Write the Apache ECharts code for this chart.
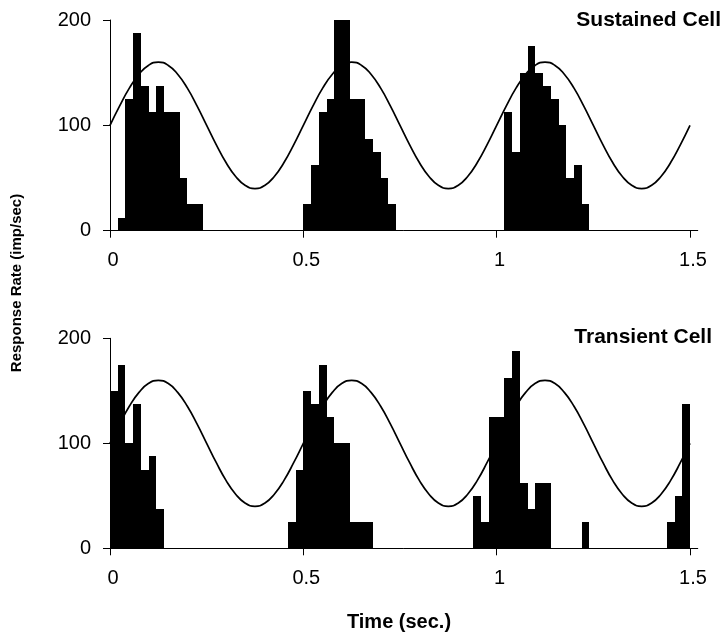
<!DOCTYPE html>
<html>
<head>
<meta charset="utf-8">
<script src="https://cdn.jsdelivr.net/npm/echarts@6/dist/echarts.min.js"></script>
<style>
html,body{margin:0;padding:0;background:#fff;}
#chart{width:724px;height:637px;}
</style>
</head>
<body>
<div id="chart"></div>
<script>
// ---- data ----
const panelTitles = ['Sustained Cell', 'Transient Cell'];
const xTickValues = [0, 0.5, 1, 1.5];
const yTickValues = [0, 100, 200];
const binWidth = 0.02;

const sustainedStart = [0.02,0.04,0.06,0.08,0.10,0.12,0.14,0.16,0.18,0.20,0.22,
  0.50,0.52,0.54,0.56,0.58,0.60,0.62,0.64,0.66,0.68,0.70,0.72,
  1.02,1.04,1.06,1.08,1.10,1.12,1.14,1.16,1.18,1.20,1.22];
const sustainedRate = [12.5,125,187.5,137.5,112.5,137.5,112.5,112.5,50,25,25,
  25,62.5,112.5,125,200,200,125,125,87.5,75,50,25,
  112.5,75,150,175,150,137.5,125,100,50,62.5,25];

const transientStart = [0,0.02,0.04,0.06,0.08,0.10,0.12,
  0.46,0.48,0.50,0.52,0.54,0.56,0.58,0.60,0.62,0.64,0.66,
  0.94,0.96,0.98,1.00,1.02,1.04,1.06,1.08,1.10,1.12,
  1.22,
  1.44,1.46,1.48];
const transientRate = [150,175,100,137.5,75,87.5,37.5,
  25,75,150,137.5,175,125,100,100,25,25,25,
  50,25,125,125,162.5,187.5,62.5,37.5,62.5,62.5,
  25,
  25,50,137.5];

const stimTime = [0,0.025,0.05,0.075,0.1,0.125,0.15,0.175,0.2,0.225,0.25,0.275,0.3,0.325,0.35,0.375,0.4,0.425,0.45,0.475,
  0.5,0.525,0.55,0.575,0.6,0.625,0.65,0.675,0.7,0.725,0.75,0.775,0.8,0.825,0.85,0.875,0.9,0.925,0.95,0.975,
  1.0,1.025,1.05,1.075,1.1,1.125,1.15,1.175,1.2,1.225,1.25,1.275,1.3,1.325,1.35,1.375,1.4,1.425,1.45,1.475,1.5];
const stimRate = [100,118.5,135.3,148.5,157.1,160,157.1,148.5,135.3,118.5,100,81.5,64.7,51.5,42.9,40,42.9,51.5,64.7,81.5,
  100,118.5,135.3,148.5,157.1,160,157.1,148.5,135.3,118.5,100,81.5,64.7,51.5,42.9,40,42.9,51.5,64.7,81.5,
  100,118.5,135.3,148.5,157.1,160,157.1,148.5,135.3,118.5,100,81.5,64.7,51.5,42.9,40,42.9,51.5,64.7,81.5,
  100];

// ---- chart ----
const FONT = '"Liberation Sans", Arial, sans-serif';
const chart = echarts.init(document.getElementById('chart'), null, {renderer: 'canvas'});

function histSeries(starts, rates, idx) {
  return {
    type: 'custom',
    xAxisIndex: idx, yAxisIndex: idx,
    data: starts.map((t, i) => [t, rates[i]]),
    encode: {x: 0, y: 1},
    z: 2,
    renderItem: function (params, api) {
      const t = api.value(0), v = api.value(1);
      const p0 = api.coord([t, v]);
      const p1 = api.coord([t + binWidth, 0]);
      const x0 = Math.round(p0[0]), x1 = Math.round(p1[0]);
      const y0 = Math.round(p0[1]), y1 = p1[1];
      return {
        type: 'rect',
        shape: {x: x0, y: y0, width: x1 - x0, height: y1 - y0},
        style: {fill: '#000'}
      };
    }
  };
}

function stimSeries(idx) {
  return {
    type: 'line',
    xAxisIndex: idx, yAxisIndex: idx,
    data: stimTime.map((t, i) => [t, stimRate[i]]),
    showSymbol: false,
    smooth: true,
    lineStyle: {color: '#000', width: 1.7},
    z: 3,
    silent: true
  };
}

const gridW = 1.52 * 386.67;
const grids = [
  {left: 110, top: 20, width: gridW, height: 210.7},
  {left: 110, top: 338.3, width: gridW, height: 210}
];

function xAxis(idx) {
  return {
    type: 'value', gridIndex: idx, min: 0, max: 1.52,
    axisLine: {show: true, lineStyle: {color: '#000', width: 1}},
    axisTick: {show: true, length: 7, inside: false, customValues: xTickValues, lineStyle: {color: '#000'}},
    axisLabel: {customValues: xTickValues, fontFamily: FONT, fontSize: 20, color: '#000', margin: 20, padding: [0, 0, 0, 6]},
    splitLine: {show: false}
  };
}
function yAxis(idx) {
  return {
    type: 'value', gridIndex: idx, min: 0, max: 200, interval: 100,
    axisLine: {show: true, lineStyle: {color: '#000', width: 1}},
    axisTick: {show: true, length: 7, inside: false, lineStyle: {color: '#000'}},
    axisLabel: {fontFamily: FONT, fontSize: 20, color: '#000', margin: 19},
    splitLine: {show: false}
  };
}

chart.setOption({
  animation: false,
  backgroundColor: '#fff',
  grid: grids,
  xAxis: [xAxis(0), xAxis(1)],
  yAxis: [yAxis(0), yAxis(1)],
  series: [
    histSeries(sustainedStart, sustainedRate, 0),
    stimSeries(0),
    histSeries(transientStart, transientRate, 1),
    stimSeries(1)
  ],
  graphic: [
    {type: 'text', right: 3, top: 10, style: {text: panelTitles[0], font: 'bold 21px ' + FONT, fill: '#000'}},
    {type: 'text', right: 12, top: 327, style: {text: panelTitles[1], font: 'bold 21px ' + FONT, fill: '#000'}},
    {type: 'text', x: 17, y: 283, rotation: Math.PI / 2,
      style: {text: 'Response Rate (imp/sec)', font: 'bold 15px ' + FONT, fill: '#000', align: 'center', verticalAlign: 'middle'}},
    {type: 'text', x: 399, y: 622,
      style: {text: 'Time (sec.)', font: 'bold 20px ' + FONT, fill: '#000', align: 'center', verticalAlign: 'middle'}}
  ]
});
</script>
</body>
</html>
